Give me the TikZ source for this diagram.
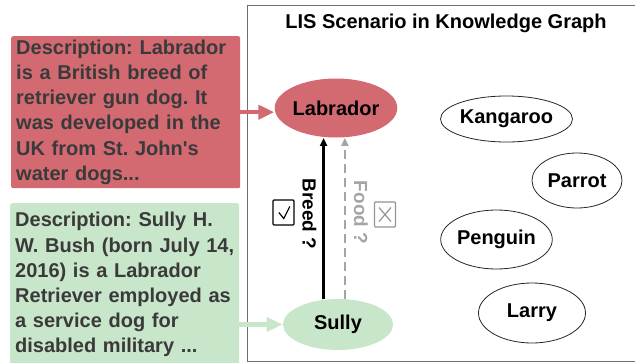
\documentclass[tikz,border=0pt]{standalone}
\usepackage{fontspec}
\setmainfont{Liberation Sans}
\usetikzlibrary{arrows.meta,shapes.geometric}
\definecolor{redfill}{RGB}{211,106,114}
\definecolor{greenfill}{RGB}{200,230,202}
\definecolor{desctext}{RGB}{58,58,58}
\definecolor{framegray}{RGB}{110,110,110}
\definecolor{foodgray}{RGB}{165,165,165}
\frenchspacing
\begin{document}
\frenchspacing
\begin{tikzpicture}[x=1pt,y=-1pt,
  desc/.style={rectangle, rounded corners=2pt, text width=219pt, inner xsep=5pt, inner ysep=0pt,
    align=left, text=desctext, font=\fontsize{20}{25.2}\selectfont\bfseries\frenchspacing, anchor=north west,
    minimum width=229pt},
  ent/.style={ellipse, draw=black!85, line width=0.8pt, inner sep=0pt,
    font=\fontsize{20}{24}\selectfont\bfseries},
  rellbl/.style={rotate=-90, font=\fontsize{19}{19}\selectfont\bfseries},
  tickbox/.style={rectangle, line width=1.4pt, rounded corners=1pt, minimum width=21pt,
    minimum height=25pt, inner sep=0pt},
  fatarrow/.style={line width=4.5pt, -{Triangle[length=16pt,width=14pt]}},
  relarrow/.style={line width=2.2pt, -{Triangle[length=8pt,width=7pt]}}
]
\useasboundingbox (0,0) rectangle (635,362);
\draw[framegray, line width=1pt] (247,5) rectangle (640,361);
\node[font=\fontsize{20}{24}\selectfont\bfseries] (title) at (446,23) {LIS Scenario in Knowledge Graph};

\node[desc, fill=redfill, minimum height=152pt] (redbox) at (11,36)
  {Description: Labrador\\ is a British breed of\\ retriever gun dog. It\\ was developed in the\\ UK from St. John\textquotesingle s\\ water dogs...};
\node[desc, fill=greenfill, minimum height=163pt] (greenbox) at (10,203)
  {Description: Sully H.\\ W. Bush (born July 14,\\ 2016) is a Labrador\\ Retriever employed as\\ a service dog for\\ disabled military ...};

\node[ent, draw=none, fill=redfill, minimum width=112pt, minimum height=59pt] (labrador) at (336,108) {Labrador};
\node[ent, draw=none, fill=greenfill, minimum width=110pt, minimum height=51pt] (sully) at (338,324.5) {Sully};
\node[ent, minimum width=113pt, minimum height=46pt] (kangaroo) at (506.5,119) {Kangaroo};
\node[ent, minimum width=90pt, minimum height=55pt] (parrot) at (577,180.5) {Parrot};
\node[ent, minimum width=105pt, minimum height=59pt] (penguin) at (496.5,239.5) {Penguin};
\node[ent, minimum width=107pt, minimum height=60pt] (larry) at (532,313) {Larry};

\draw[fatarrow, redfill] (redbox.east) -- (redbox.east -| labrador.west);
\draw[fatarrow, greenfill] (greenbox.east |- sully.west) -- (sully.west);

\draw[relarrow, black] (sully.120) -- (sully.120 |- labrador.south);
\draw[relarrow, foodgray, dash pattern=on 9pt off 5pt] (sully.75) -- (sully.75 |- labrador.south);

\node[rellbl] (breed) at (309.5,214) {Breed ?};
\node[rellbl, text=foodgray] (food) at (361,212.5) {Food ?};

\node[tickbox, draw=black] (chk) at (283.5,212.5) {};
\draw[line width=1.2pt] ([shift={(-4.7,0)}]chk.center) -- ([shift={(0.3,6)}]chk.center) -- ([shift={(6.3,-6)}]chk.center);
\node[tickbox, draw=foodgray!90!black] (crs) at (385,214.5) {};
\draw[line width=1.2pt, foodgray!90!black] ([shift={(-6,-7)}]crs.center) -- ([shift={(6,7)}]crs.center)
  ([shift={(-6,7)}]crs.center) -- ([shift={(6,-7)}]crs.center);
\end{tikzpicture}
\end{document}
